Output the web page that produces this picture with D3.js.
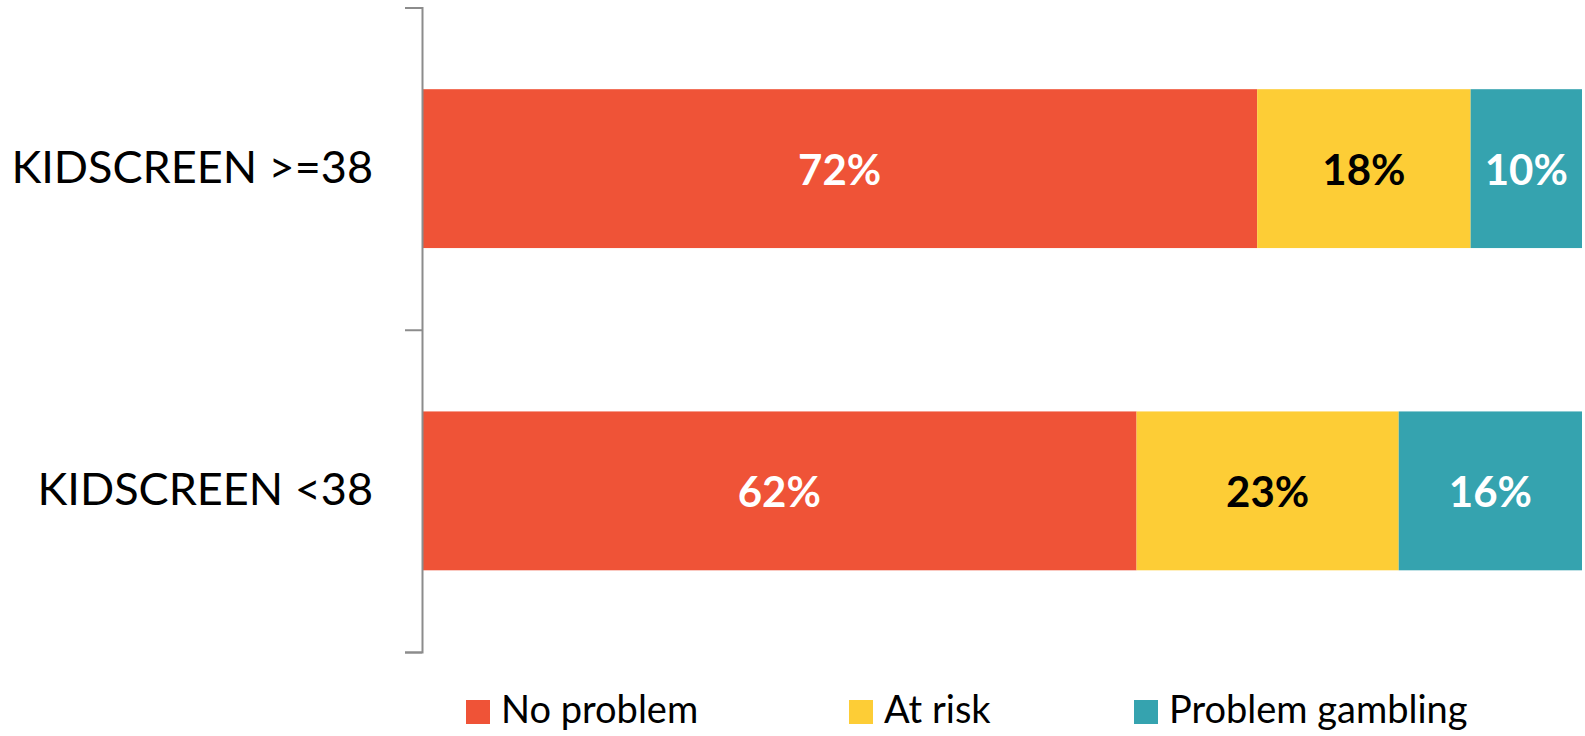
<!DOCTYPE html>
<html>
<head>
<meta charset="utf-8">
<script src="https://cdn.jsdelivr.net/npm/d3@7"></script>
<style>
  body { margin: 0; background: #fff; }
  text { font-family: Lato, "Open Sans", sans-serif; }
</style>
</head>
<body>
<svg id="chart" width="1585" height="736"></svg>
<script>
"use strict";

// categories, top to bottom
var categories = ["KIDSCREEN >=38", "KIDSCREEN <38"];
// series (percent of group)
var seriesNames = ["No problem", "At risk", "Problem gambling"];
var noProblem = [72.0, 61.6];
var atRisk = [18.4, 22.6];
var problemGambling = [9.6, 15.8];
var seriesColors = ["#EF5337", "#FDCD36", "#35A3AF"];
var labelColors = ["#ffffff", "#000000", "#ffffff"];

var svg = d3.select("#chart");

// build stacked rows from the arrays
var rows = categories.map(function(c, i) {
  return { cat: c, "No problem": noProblem[i], "At risk": atRisk[i], "Problem gambling": problemGambling[i] };
});
var stacked = d3.stack().keys(seriesNames)(rows);

var x = d3.scaleLinear().domain([0, 100]).range([422, 1582]);
var y = d3.scaleBand().domain(categories).range([7.5, 652])
  .paddingInner(0.507).paddingOuter(0.2535);
// boundaries between categories, for the axis ticks
var yEdge = d3.scaleLinear().domain([0, categories.length]).range([7.5, 652]);

// bars
var layers = svg.append("g").selectAll("g")
  .data(stacked)
  .enter()
  .append("g")
  .attr("fill", function(d, i) { return seriesColors[i]; });

layers.selectAll("rect")
  .data(function(d) { return d; })
  .enter()
  .append("rect")
  .attr("x", function(d) { return x(d[0]); })
  .attr("y", function(d) { return y(d.data.cat); })
  .attr("width", function(d) { return x(d[1]) - x(d[0]); })
  .attr("height", y.bandwidth());

// data labels
stacked.forEach(function(layer, i) {
  svg.append("g").selectAll("text")
    .data(layer)
    .enter()
    .append("text")
    .attr("x", function(d) { return (x(d[0]) + x(d[1])) / 2; })
    .attr("y", function(d) { return y(d.data.cat) + y.bandwidth() / 2 + 16; })
    .attr("text-anchor", "middle")
    .attr("fill", labelColors[i])
    .style("font-size", "42px")
    .style("font-weight", "bold")
    .text(function(d) { return Math.round(d[1] - d[0]) + "%"; });
});

// axis line with ticks between categories
var axisG = svg.append("g")
  .attr("transform", "translate(" + x(0) + ",0)")
  .call(d3.axisLeft(yEdge).tickValues(d3.range(categories.length + 1))
    .tickSize(17).tickFormat(""));
axisG.select(".domain").attr("stroke", "#8C8C8C").attr("stroke-width", 2);
axisG.selectAll(".tick line").attr("stroke", "#8C8C8C").attr("stroke-width", 2);

// category labels
var catAxis = svg.append("g")
  .attr("transform", "translate(" + x(0) + ",0)")
  .call(d3.axisLeft(y).tickSize(0).tickPadding(49));
catAxis.select(".domain").remove();
catAxis.selectAll("text")
  .attr("fill", "#000")
  .style("font-size", "45px")
  .style("font-family", "Lato, 'Open Sans', sans-serif");

// legend
var legendX = [466, 849, 1134];
var legend = svg.append("g").attr("class", "legend");
legend.selectAll("rect")
  .data(seriesNames)
  .enter()
  .append("rect")
  .attr("x", function(d, i) { return legendX[i]; })
  .attr("y", 700)
  .attr("width", 24)
  .attr("height", 24)
  .attr("fill", function(d, i) { return seriesColors[i]; });
legend.selectAll("text")
  .data(seriesNames)
  .enter()
  .append("text")
  .attr("x", function(d, i) { return legendX[i] + 35; })
  .attr("y", 723)
  .style("font-size", "38px")
  .attr("fill", "#000")
  .text(function(d) { return d; });
</script>
</body>
</html>
